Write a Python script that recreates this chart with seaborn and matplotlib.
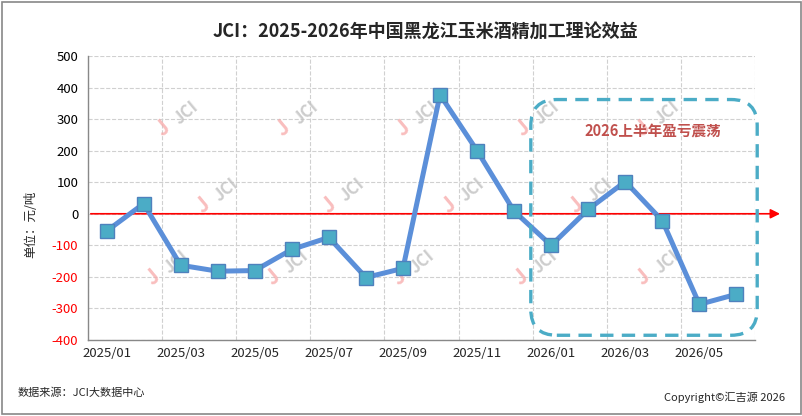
import numpy as np
import pandas as pd
import matplotlib
matplotlib.use("Agg")
import matplotlib.pyplot as plt
from matplotlib.patches import FancyBboxPatch, Rectangle
from matplotlib.transforms import IdentityTransform
import seaborn as sns

sns.set_theme(style="white")
plt.rcParams['font.family'] = ['Noto Sans CJK SC', 'DejaVu Sans']
plt.rcParams['axes.unicode_minus'] = False

# monthly data, 2025/01 - 2026/06
months = ["2025/01", "2025/02", "2025/03", "2025/04", "2025/05", "2025/06",
          "2025/07", "2025/08", "2025/09", "2025/10", "2025/11", "2025/12",
          "2026/01", "2026/02", "2026/03", "2026/04", "2026/05", "2026/06"]
profit = [-55, 32, -163, -182, -180, -113, -75, -202, -173, 377, 200, 8,
          -100, 14, 102, -22, -287, -255]
yticks = [-400, -300, -200, -100, 0, 100, 200, 300, 400, 500]

df = pd.DataFrame({"idx": range(len(months)), "month": months, "profit": profit})

fig = plt.figure(figsize=(8.03, 4.16), dpi=100)
ax = fig.add_axes([0.1096, 0.1827, 0.8306, 0.6827])

sns.lineplot(data=df, x="idx", y="profit", ax=ax, color="#5b8fd9", linewidth=3.6,
             marker="s", markersize=10, markerfacecolor="#4bacc6",
             markeredgecolor="#4f81bd", markeredgewidth=1.0, zorder=5)

n = len(months)
ax.set_xlim(-0.5, n - 0.5)
ax.set_ylim(-400, 500)
ax.set_yticks(yticks)
ax.set_yticklabels([str(v) for v in yticks], fontsize=9.5)
for lbl, v in zip(ax.get_yticklabels(), yticks):
    lbl.set_color("red" if v < 0 else "black")

ax.set_xticks(range(0, n, 2))
ax.set_xticklabels(months[::2], fontsize=9.5)
ax.set_xticks(np.arange(-0.5, n, 2), minor=True)
ax.tick_params(axis="x", which="major", length=0, pad=5)
ax.tick_params(axis="x", which="minor", length=4, color="#888888", direction="out")
ax.tick_params(axis="y", length=4, color="#888888", direction="out", pad=3)

ax.grid(False)
ax.grid(axis="y", which="major", linestyle="--", color="#d0d0d0", linewidth=0.8)
ax.grid(axis="x", which="minor", linestyle="--", color="#d0d0d0", linewidth=0.8)
ax.set_axisbelow(True)
for side in ["top", "right"]:
    ax.spines[side].set_visible(False)
for side in ["left", "bottom"]:
    ax.spines[side].set_color("#888888")
    ax.spines[side].set_linewidth(1.0)
ax.set_xlabel("")
ax.set_ylabel("")

# watermarks (axes fraction)
wm = [(0.148, 0.80), (0.328, 0.80), (0.508, 0.80), (0.688, 0.80), (0.868, 0.80),
      (0.208, 0.528), (0.397, 0.528), (0.577, 0.528), (0.768, 0.528),
      (0.133, 0.275), (0.313, 0.275), (0.502, 0.275), (0.685, 0.275), (0.868, 0.275)]
for wx, wy in wm:
    ax.text(wx - 0.036, wy - 0.055, "J", transform=ax.transAxes, rotation=40,
            fontsize=15, color="#f7a8a8", alpha=0.75, ha="center", va="center",
            zorder=1, fontweight="bold")
    ax.text(wx, wy, "JCI", transform=ax.transAxes, rotation=40,
            fontsize=12, color="#c4c4c4", alpha=0.85, ha="center", va="center",
            zorder=1, fontweight="bold")

# zero arrow
ax.annotate("", xy=(18.25, 0), xytext=(-0.5, 0), xycoords="data",
            arrowprops=dict(arrowstyle="-|>", color="red", lw=1.2,
                            mutation_scale=14), annotation_clip=False, zorder=4)

# highlight box
fig.canvas.draw()
x0, y0 = ax.transData.transform((11.45, -385))
x1, y1 = ax.transData.transform((17.56, 362))
box = FancyBboxPatch((x0, y0), x1 - x0, y1 - y0,
                     boxstyle="round,pad=0,rounding_size=26",
                     transform=IdentityTransform(), fill=False,
                     edgecolor="#4bacc6", linewidth=2.4, linestyle=(0, (4, 2.5)),
                     zorder=6)
fig.patches.append(box)
ax.text(14.75, 263, "2026上半年盈亏震荡", fontsize=10.5, fontweight="bold",
        color="#c0504d", ha="center", va="center", zorder=7)

fig.suptitle("JCI：2025-2026年中国黑龙江玉米酒精加工理论效益", x=0.53, y=0.945,
             fontsize=13, fontweight="bold")
fig.text(0.038, 0.46, "单位：元/吨", rotation=90, fontsize=9, ha="center", va="center")
fig.text(0.022, 0.055, "数据来源：JCI大数据中心", fontsize=8, ha="left", va="center")
fig.text(0.978, 0.045, "Copyright©汇吉源 2026", fontsize=8, ha="right", va="center")

fig.patches.append(Rectangle((0.003, 0.004), 0.994, 0.992, transform=fig.transFigure,
                             fill=False, edgecolor="#888888", linewidth=1.2))

fig.savefig("out.png", dpi=100)
